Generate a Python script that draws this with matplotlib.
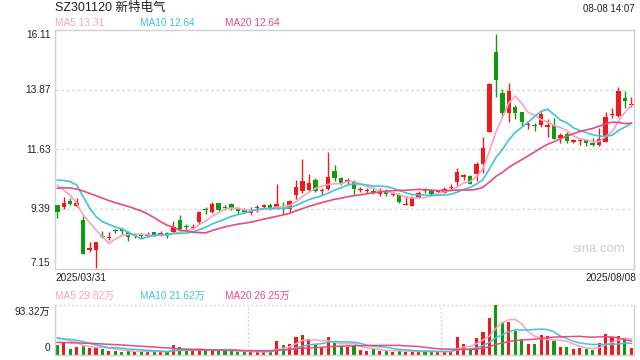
import numpy as np
import pandas as pd
import matplotlib
matplotlib.use("Agg")
import matplotlib.pyplot as plt

plt.rcParams['font.family'] = ['Liberation Sans', 'Noto Sans CJK SC', 'DejaVu Sans']

title = "SZ301120 新特电气"
stamp = "08-08 14:07"
date_first = "2025/03/31"
date_last = "2025/08/08"
yticks = [7.15, 9.39, 11.63, 13.87, 16.11]
vol_max = 93.32

opens = [9.56, 9.48, 9.71, 9.53, 8.99, 7.86, 7.87, 8.40, 8.33, 8.60,
         8.63, 8.56, 8.40, 8.42, 8.41, 8.53, 8.43, 8.51, 8.56, 8.99,
         8.75, 8.71, 8.91, 9.39, 9.29, 9.62, 9.48, 9.59, 9.43, 9.37,
         9.27, 9.43, 9.49, 9.56, 9.43, 9.44, 9.39, 9.93, 10.09, 10.12,
         10.49, 10.08, 10.14, 10.84, 10.58, 10.45, 10.43, 10.10, 10.07, 10.08,
         9.98, 10.05, 9.94, 9.92, 9.57, 9.53, 9.87, 10.12, 10.12, 10.03,
         10.02, 10.18, 10.40, 10.62, 10.64, 10.70, 11.08, 12.27, 15.26, 13.73,
         12.98, 13.22, 13.02, 12.53, 12.55, 12.56, 12.48, 12.55, 12.07, 12.20,
         11.92, 11.94, 11.99, 11.89, 11.81, 11.92, 12.91, 12.88, 13.56, 13.29]
highs = [9.56, 9.87, 9.80, 9.80, 9.14, 8.18, 8.18, 8.58, 8.56, 8.67,
         8.71, 8.60, 8.52, 8.50, 8.56, 8.56, 8.58, 8.56, 8.96, 9.18,
         8.83, 8.86, 9.33, 9.47, 9.66, 9.64, 9.56, 9.63, 9.48, 9.44,
         9.49, 9.55, 9.59, 9.62, 10.34, 9.66, 9.74, 10.49, 11.28, 10.71,
         10.58, 10.20, 11.55, 11.05, 10.62, 10.55, 10.49, 10.24, 10.20, 10.24,
         10.18, 10.14, 10.02, 9.99, 9.87, 9.88, 10.08, 10.20, 10.14, 10.10,
         10.23, 10.33, 10.93, 10.71, 10.66, 11.18, 12.09, 14.13, 15.94, 13.89,
         14.11, 13.29, 13.02, 12.67, 12.61, 13.02, 12.77, 12.80, 12.23, 12.27,
         12.02, 12.05, 12.02, 12.05, 12.42, 13.02, 13.18, 13.97, 13.83, 13.61]
lows = [9.08, 9.41, 9.56, 9.49, 7.74, 7.81, 7.21, 8.31, 8.25, 8.52,
        8.48, 8.21, 8.31, 8.31, 8.36, 8.39, 8.38, 8.31, 8.52, 8.62,
        8.63, 8.66, 8.86, 9.22, 9.27, 9.34, 9.36, 9.36, 9.22, 9.27,
        9.19, 9.28, 9.45, 9.37, 9.41, 9.23, 9.24, 9.79, 9.99, 10.05,
        10.03, 9.93, 10.12, 10.45, 10.29, 10.33, 9.93, 10.03, 9.99, 9.95,
        9.89, 9.90, 9.89, 9.63, 9.57, 9.50, 9.83, 10.02, 9.94, 9.99,
        9.99, 10.12, 10.28, 10.49, 10.33, 10.47, 10.76, 12.27, 13.61, 12.88,
        12.67, 12.77, 12.51, 12.40, 12.32, 12.48, 12.10, 12.01, 11.89, 11.89,
        11.89, 11.80, 11.75, 11.75, 11.75, 11.92, 12.80, 12.85, 13.20, 13.22]
closes = [9.31, 9.63, 9.58, 9.64, 7.74, 7.95, 8.16, 8.37, 8.36, 8.57,
          8.60, 8.35, 8.43, 8.38, 8.46, 8.42, 8.52, 8.38, 8.73, 8.65,
          8.72, 8.75, 9.28, 9.36, 9.59, 9.37, 9.44, 9.42, 9.34, 9.29,
          9.34, 9.47, 9.56, 9.43, 9.58, 9.41, 9.71, 10.23, 10.45, 10.37,
          10.09, 10.12, 10.59, 10.58, 10.39, 10.49, 10.14, 10.14, 10.10, 9.99,
          10.05, 9.98, 9.98, 9.68, 9.59, 9.83, 9.99, 10.08, 9.97, 10.07,
          10.14, 10.22, 10.79, 10.66, 10.35, 11.08, 11.69, 14.08, 14.23, 13.01,
          13.82, 13.01, 12.67, 12.57, 12.51, 12.96, 12.56, 12.04, 12.17, 11.96,
          11.97, 12.00, 11.87, 11.79, 12.02, 12.85, 12.95, 13.82, 13.46, 13.33]
volumes = [18.7, 23.6, 11.2, 14.9, 17.4, 12.4, 14.9, 11.2, 7.5, 7.5,
           6.2, 8.1, 6.2, 6.2, 6.2, 6.2, 6.2, 6.2, 19.3, 14.9,
           8.1, 7.5, 10.0, 10.0, 10.0, 7.5, 7.5, 7.5, 6.2, 5.6,
           5.6, 5.6, 5.6, 6.2, 26.1, 18.7, 19.9, 34.2, 37.3, 29.9,
           18.7, 13.7, 34.2, 21.8, 17.4, 15.6, 17.4, 8.7, 7.5, 11.2,
           7.5, 7.5, 6.2, 7.5, 6.2, 7.5, 6.2, 6.2, 6.2, 6.2,
           6.2, 7.5, 34.2, 20.5, 10.6, 32.3, 43.5, 69.7, 93.32, 61.0,
           62.2, 44.8, 29.2, 20.5, 21.2, 37.3, 36.1, 26.1, 14.9, 14.9,
           11.2, 13.7, 11.2, 10.0, 22.4, 39.2, 33.6, 36.1, 27.4, 12.4]

# moving-average values at the left edge (window reaches before the chart)
ma5_head = [10.30, 10.10, 9.92, 9.62]
ma10_head = [10.49, 10.47, 10.43, 10.30, 9.87, 9.45, 9.12, 8.93, 8.83]
ma20_head = [10.18, 10.20, 10.19, 10.15, 10.08, 9.99, 9.90, 9.81, 9.72, 9.64,
             9.57, 9.50, 9.42, 9.33, 9.22, 9.08, 8.93, 8.80, 8.72]
vma5_head = [32.3, 29.9, 26.1, 23.6]
vma10_head = [31.1, 29.9, 29.2, 27.4, 24.9, 21.8, 18.7, 16.2, 13.7]
vma20_head = [23.6, 23.2, 22.9, 22.5, 22.1, 21.8, 21.2, 20.6, 20.0, 19.3,
              18.7, 17.9, 17.1, 16.3, 15.6, 14.9, 14.0, 13.2, 12.4]

ma_labels = ["MA5 13.31", "MA10 12.64", "MA20 12.64"]
vma_labels = ["MA5 29.82万", "MA10 21.62万", "MA20 26.25万"]

RED = '#f01a1a'
GREEN = '#0f9a0f'
C5 = '#f9a3bf'
C10 = '#3fc3df'
C20 = '#ea4a7c'
GRID = '#d8d8d8'
FRAME = '#d0d0d0'


def moving(values, n, head):
    s = pd.Series(values).rolling(n).mean().to_numpy()
    s[:len(head)] = head
    return s


o = np.array(opens); h = np.array(highs); l = np.array(lows); c = np.array(closes)
v = np.array(volumes)
n = len(c)
x = np.arange(n)
up = c >= o
cols = np.where(up, RED, GREEN)

W, H = 640, 360
fig = plt.figure(figsize=(6.4, 3.6), dpi=100)

def fx(px):
    return px / W

def fy(py):
    return 1 - py / H

ax = fig.add_axes([fx(55), fy(269.3), fx(634) - fx(55), fy(29.7) - fy(269.3)])
axv = fig.add_axes([fx(55), fy(355), fx(634) - fx(55), fy(305) - fy(355)])

xlo, xhi = -0.36, n - 1 + 0.41

# price panel
for yv in yticks[1:-1]:
    ax.axhline(yv, color=GRID, lw=1.0, ls=(0, (2, 2)), zorder=0)
ax.vlines(x, l, h, colors=cols, lw=1.0, zorder=2)
body_lo = np.minimum(o, c)
body_h = np.maximum(np.abs(c - o), 0.04)
ax.bar(x, body_h, bottom=body_lo, width=0.68, color=cols, edgecolor=cols, lw=0, zorder=3)
ax.plot(x, moving(c, 5, ma5_head), color=C5, lw=1.2, zorder=4)
ax.plot(x, moving(c, 10, ma10_head), color=C10, lw=1.2, zorder=4)
ax.plot(x, moving(c, 20, ma20_head), color=C20, lw=1.2, zorder=4)
ax.set_xlim(xlo, xhi)
ax.set_ylim(yticks[0], yticks[-1])
ax.set_xticks([]); ax.set_yticks([])
for s in ax.spines.values():
    s.set_color(FRAME); s.set_linewidth(1.0)
ax.text(0.94, 0.085, "sina.com", transform=ax.transAxes, ha='center', va='center',
        fontsize=9.5, color='#cfcfcf')

# volume panel
axv.bar(x, v, width=0.48, color=cols, lw=0, zorder=2)
axv.plot(x, moving(v, 5, vma5_head), color=C5, lw=1.1, zorder=3)
axv.plot(x, moving(v, 10, vma10_head), color=C10, lw=1.1, zorder=3)
axv.plot(x, moving(v, 20, vma20_head), color=C20, lw=1.1, zorder=3)
axv.set_xlim(xlo, xhi)
axv.set_ylim(0, vol_max)
axv.set_xticks([]); axv.set_yticks([])
axv.axhline(vol_max, color=GRID, lw=1.0, ls=(0, (1.5, 1.5)), zorder=1, clip_on=False)
for fr in (1 / 3, 2 / 3):
    axv.plot([fr, fr], [0, 1], transform=axv.transAxes, color=GRID, lw=1.0,
             ls=(0, (1.5, 1.5)), zorder=1)
axv.spines['top'].set_visible(False)
for k in ('left', 'right', 'bottom'):
    axv.spines[k].set_color(FRAME); axv.spines[k].set_linewidth(1.0)

# texts
fig.text(fx(55), fy(8), title, fontsize=9, color='#222222', ha='left', va='center')
fig.text(fx(635), fy(8.5), stamp, fontsize=7, color='#222222', ha='right', va='center')
for lab, col, px in zip(ma_labels, [C5, C10, C20], [55, 140, 225]):
    fig.text(fx(px), fy(23), lab, fontsize=7.3, color=col, ha='left', va='center')
tick_pos = {16.11: 35, 13.87: 89.6, 11.63: 149.5, 9.39: 209.4, 7.15: 263}
for t in yticks:
    fig.text(fx(50.5), fy(tick_pos[t]), f"{t:.2f}", fontsize=7.3, color='#222222',
             ha='right', va='center')
fig.text(fx(55), fy(278), date_first, fontsize=7.3, color='#222222', ha='left', va='center')
fig.text(fx(636), fy(278), date_last, fontsize=7.3, color='#222222', ha='right', va='center')
for lab, col, px in zip(vma_labels, [C5, C10, C20], [55, 140, 225]):
    fig.text(fx(px), fy(296), lab, fontsize=7.3, color=col, ha='left', va='center')
fig.text(fx(50.5), fy(312), f"{vol_max:.2f}万", fontsize=7.3, color='#222222', ha='right', va='center')
fig.text(fx(50.5), fy(348), "0", fontsize=7.3, color='#222222', ha='right', va='center')

fig.savefig("out.png", dpi=100)
